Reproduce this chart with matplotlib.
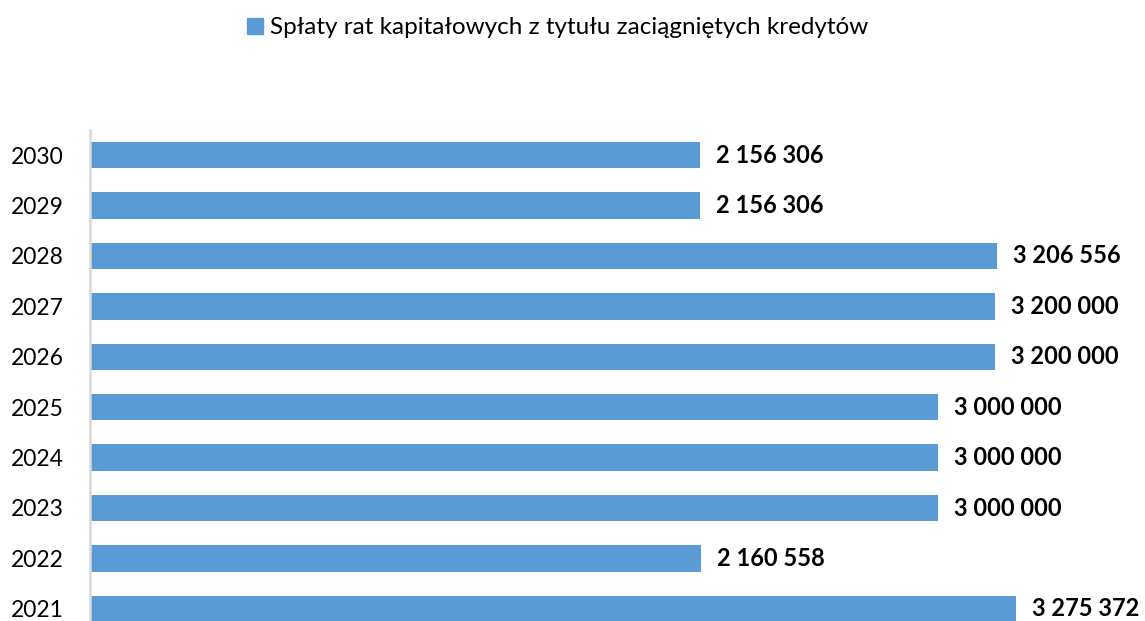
import matplotlib
matplotlib.use("Agg")
import matplotlib.pyplot as plt
from matplotlib.patches import Patch

# spłaty rat kapitałowych wg lat
years = ["2021", "2022", "2023", "2024", "2025", "2026", "2027", "2028", "2029", "2030"]
values = [3275372, 2160558, 3000000, 3000000, 3000000, 3200000, 3200000, 3206556, 2156306, 2156306]
series_name = "Spłaty rat kapitałowych z tytułu zaciągniętych kredytów"

BAR = "#5B9BD5"
AXIS = "#D9D9D9"

plt.rcParams["font.family"] = ["Lato", "DejaVu Sans"]

W, H = 1145, 621
fig = plt.figure(figsize=(W / 100, H / 100), dpi=100)
# axes runs past the bottom edge, so the 2021 bar is clipped like in the source export
ax = fig.add_axes([90 / W, -13 / H, 1 - 90 / W, (634 - 130) / H])

ypos = list(range(len(years)))
ax.barh(ypos, values, height=0.52, color=BAR)
ax.set_ylim(-0.5, len(years) - 0.5)
ax.set_xlim(0, (W - 90) / (926 / 3275372))

ax.set_yticks(ypos)
ax.set_yticklabels(years, fontsize=16.5)
ax.tick_params(axis="y", length=0, pad=19)
ax.set_xticks([])

for s in ("top", "right", "bottom"):
    ax.spines[s].set_visible(False)
ax.spines["left"].set_color(AXIS)
ax.spines["left"].set_linewidth(1.8)

for y, v in zip(ypos, values):
    lbl = f"{v:,}".replace(",", " ")
    ax.annotate(lbl, (v, y), xytext=(16, 0), textcoords="offset pixels",
                ha="left", va="center", fontsize=17, fontweight="bold", color="black")

fig.legend(handles=[Patch(color=BAR)], labels=[series_name], loc="center",
           bbox_to_anchor=(558 / W, 1 - 28 / H), frameon=False, fontsize=17.5,
           handlelength=0.65, handleheight=0.65, handletextpad=0.3)

fig.savefig("out.png", dpi=100, facecolor="white")
